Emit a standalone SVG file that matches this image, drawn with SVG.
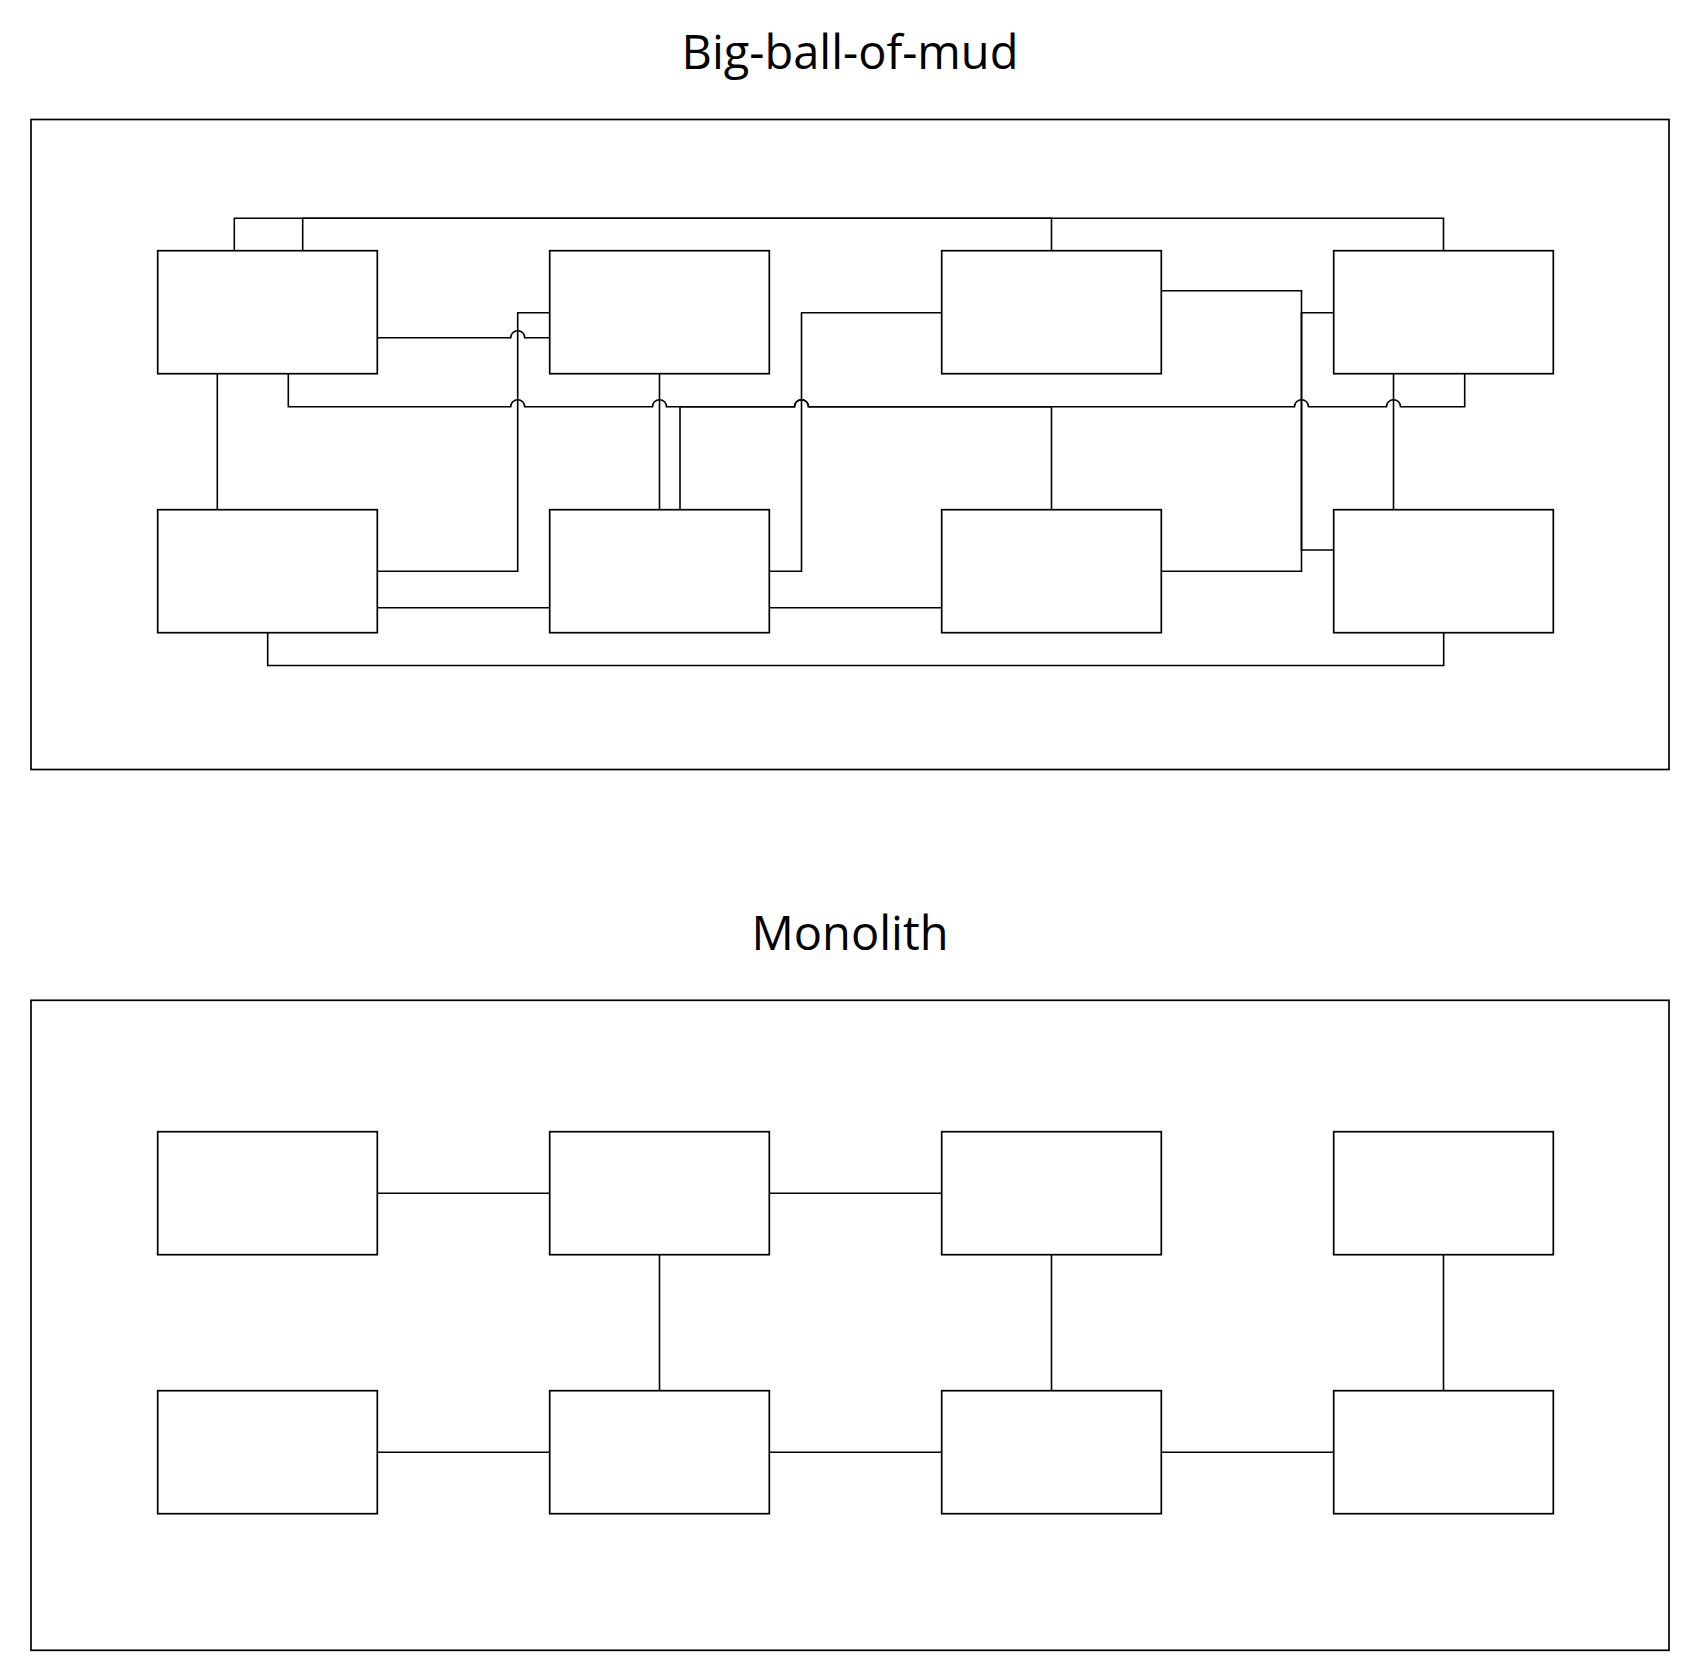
<svg xmlns="http://www.w3.org/2000/svg" width="1700" height="1680" viewBox="0 0 1700 1680">
<style>
.frame{fill:none;stroke:#000;stroke-width:1.7}
.box{fill:#fff;stroke:#000;stroke-width:1.7}
.con{fill:none;stroke:#000;stroke-width:1.6}
.title{font-family:"Open Sans","Noto Sans",sans-serif;font-size:47px;fill:#000;text-anchor:middle}
</style>
<rect width="1700" height="1680" fill="#fff"/>

<!-- Big-ball-of-mud -->
<g id="bbom">
<text class="title" x="850" y="69">Big-ball-of-mud</text>
<rect id="bbom-frame" class="frame" x="31" y="119.5" width="1638" height="650"/>
</g>
<g id="bbom-connectors">
<path class="con" d="M234.3 250.7 V218.3 H1443.5 V250.7"/>
<path class="con" d="M302.7 250.7 V218.3 H1051.5 V250.7"/>
<path class="con" d="M377.3 337.7 H510.7 a7 7 0 0 1 14 0 H549.7"/>
<path class="con" d="M549.7 312.7 H517.7 V571.3 H377.3"/>
<path class="con" d="M217.3 373.7 V509.7"/>
<path class="con" d="M288.3 373.7 V406.7 H510.7 a7 7 0 0 1 14 0 H652.5 a7 7 0 0 1 14 0 H794.5 a7 7 0 0 1 14 0 H1294.5 a7 7 0 0 1 14 0 H1386.5 a7 7 0 0 1 14 0 H1464.7 V373.7"/>
<path class="con" d="M659.5 373.7 V509.7"/>
<path class="con" d="M680 509.7 V406.7 H794.5 a7 7 0 0 1 14 0 H1051.5 V509.7"/>
<path class="con" d="M941.7 312.7 H801.5 V571.3 H769.3"/>
<path class="con" d="M1161.3 290.7 H1301.5 V571.3 H1161.3"/>
<path class="con" d="M1333.7 312.7 H1301.5 V550 H1333.7"/>
<path class="con" d="M1393.5 373.7 V509.7"/>
<path class="con" d="M377.3 607.7 H549.7"/>
<path class="con" d="M769.3 607.7 H941.7"/>
<path class="con" d="M267.7 632.7 V665.5 H1443.7 V632.7"/>
</g>
<g id="bbom-n1"><rect class="box" x="157.7" y="250.7" width="219.6" height="123"/></g>
<g id="bbom-n2"><rect class="box" x="549.7" y="250.7" width="219.6" height="123"/></g>
<g id="bbom-n3"><rect class="box" x="941.7" y="250.7" width="219.6" height="123"/></g>
<g id="bbom-n4"><rect class="box" x="1333.7" y="250.7" width="219.6" height="123"/></g>
<g id="bbom-n5"><rect class="box" x="157.7" y="509.7" width="219.6" height="123"/></g>
<g id="bbom-n6"><rect class="box" x="549.7" y="509.7" width="219.6" height="123"/></g>
<g id="bbom-n7"><rect class="box" x="941.7" y="509.7" width="219.6" height="123"/></g>
<g id="bbom-n8"><rect class="box" x="1333.7" y="509.7" width="219.6" height="123"/></g>

<!-- Monolith -->
<g id="mono">
<text class="title" x="850" y="950">Monolith</text>
<rect id="mono-frame" class="frame" x="31" y="1000.3" width="1638" height="650"/>
</g>
<g id="mono-connectors">
<path class="con" d="M377.3 1193.2 H549.7"/>
<path class="con" d="M769.3 1193.2 H941.7"/>
<path class="con" d="M659.5 1254.7 V1390.7"/>
<path class="con" d="M1051.5 1254.7 V1390.7"/>
<path class="con" d="M1443.5 1254.7 V1390.7"/>
<path class="con" d="M377.3 1452.2 H549.7"/>
<path class="con" d="M769.3 1452.2 H941.7"/>
<path class="con" d="M1161.3 1452.2 H1333.7"/>
</g>
<g id="mono-n1"><rect class="box" x="157.7" y="1131.7" width="219.6" height="123"/></g>
<g id="mono-n2"><rect class="box" x="549.7" y="1131.7" width="219.6" height="123"/></g>
<g id="mono-n3"><rect class="box" x="941.7" y="1131.7" width="219.6" height="123"/></g>
<g id="mono-n4"><rect class="box" x="1333.7" y="1131.7" width="219.6" height="123"/></g>
<g id="mono-n5"><rect class="box" x="157.7" y="1390.7" width="219.6" height="123"/></g>
<g id="mono-n6"><rect class="box" x="549.7" y="1390.7" width="219.6" height="123"/></g>
<g id="mono-n7"><rect class="box" x="941.7" y="1390.7" width="219.6" height="123"/></g>
<g id="mono-n8"><rect class="box" x="1333.7" y="1390.7" width="219.6" height="123"/></g>
</svg>
